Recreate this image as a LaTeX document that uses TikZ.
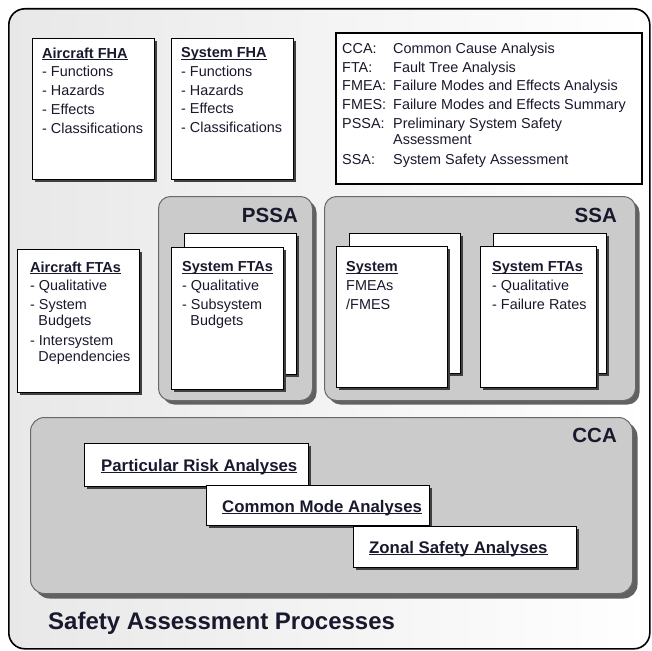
\documentclass[tikz,border=0pt]{standalone}
\usepackage{fontspec}
\setmainfont{Liberation Sans}
\usetikzlibrary{shadows}
\definecolor{textc}{RGB}{25,25,45}
\definecolor{grayfill}{RGB}{203,203,203}
\definecolor{grayline}{RGB}{105,105,105}
\newcommand{\myul}[1]{\setbox0\hbox{#1}\rlap{\rule[-1.8pt]{\wd0}{1pt}}\box0}
\newcommand{\ttl}[1]{{\fontsize{14.5}{16.2}\selectfont\bfseries\myul{#1}}}
\newcommand{\ind}{\hspace*{8.2pt}}
\tikzset{
  wbox/.style={draw=black, line width=0.9pt, fill=white, inner sep=0pt, anchor=north west,
    drop shadow={shadow xshift=3pt, shadow yshift=-3pt, fill=black!75, opacity=1}},
  gbox/.style={draw=grayline, line width=1pt, fill=grayfill, rounded corners=12pt, inner sep=0pt, anchor=north west,
    drop shadow={shadow xshift=4pt, shadow yshift=-4pt, fill=black!62, opacity=1}},
  txt/.style={inner sep=0pt, anchor=north west, align=left, text=textc, font=\fontsize{14.4}{16.2}\selectfont},
  big/.style={inner sep=0pt, anchor=base east, text=textc, font=\fontsize{20.5}{24}\selectfont\bfseries},
  ccat/.style={inner sep=0pt, anchor=base west, text=textc, font=\fontsize{16.8}{18}\selectfont\bfseries},
}
\begin{document}
\begin{tikzpicture}[x=1pt,y=-1pt]
\useasboundingbox (0,0) rectangle (652,650);
% outer frame
\node[draw=black, line width=1.6pt, rounded corners=16pt, left color=black!9, right color=white,
  minimum width=641pt, minimum height=640pt, inner sep=0pt, anchor=north west] (outer) at (8,8) {};
% FHA boxes
\node[wbox, minimum width=122pt, minimum height=141pt] (afha) at (32,38) {};
\node[wbox, minimum width=122pt, minimum height=141pt] (sfha) at (171,38) {};
\node[txt] (afhat) at (42,47.5) {\ttl{Aircraft FHA}\\[2.5pt]- Functions\\[2.5pt]- Hazards\\[2.5pt]- Effects\\[2.5pt]- Classifications};
\node[txt] (sfhat) at (181,47.5) {\ttl{System FHA}\\[2.5pt]- Functions\\[2.5pt]- Hazards\\[2.5pt]- Effects\\[2.5pt]- Classifications};
% legend
\node[draw=black, line width=2pt, fill=white, minimum width=306pt, minimum height=151pt, inner sep=0pt, anchor=north west] (legend) at (335,32) {};
\node[txt] (legendt) at (342,42.8) {\makebox[51pt][l]{CCA:}Common Cause Analysis\\[2.5pt]
\makebox[51pt][l]{FTA:}Fault Tree Analysis\\[2.5pt]
\makebox[51pt][l]{FMEA:}Failure Modes and Effects Analysis\\[2.5pt]
\makebox[51pt][l]{FMES:}Failure Modes and Effects Summary\\[2.5pt]
\makebox[51pt][l]{PSSA:}Preliminary System Safety\\
\hspace*{51pt}Assessment\\[3.5pt]
\makebox[51pt][l]{SSA:}System Safety Assessment};
% Aircraft FTAs
\node[wbox, minimum width=122pt, minimum height=143pt] (aftas) at (17,249) {};
\node[txt] (aftast) at (30,261.4) {\ttl{Aircraft FTAs}\\[2.5pt]- Qualitative\\[2.5pt]- System\\\ind Budgets\\[3.5pt]- Intersystem\\\ind Dependencies};
% PSSA
\node[gbox, minimum width=154pt, minimum height=204pt] (pssa) at (158,196) {};
\node[big] (pssal) at (298,222) {PSSA};
\node[wbox, minimum width=112pt, minimum height=141pt] (pssab) at (184,233) {};
\node[wbox, minimum width=112pt, minimum height=142pt] (pssaf) at (171,247) {};
\node[txt] (pssat) at (182,261.4) {\ttl{System FTAs}\\[2.5pt]- Qualitative\\[2.5pt]- Subsystem\\\ind Budgets};
% SSA
\node[gbox, minimum width=311pt, minimum height=204pt] (ssa) at (324,196) {};
\node[big] (ssal) at (617,222) {SSA};
\node[wbox, minimum width=111pt, minimum height=140pt] (ssab1) at (349,233) {};
\node[wbox, minimum width=111pt, minimum height=141pt] (ssaf1) at (336,246) {};
\node[txt] (ssat1) at (346,261.4) {\ttl{System}\\[2.5pt]FMEAs\\[2.5pt]/FMES};
\node[wbox, minimum width=113pt, minimum height=140pt] (ssab2) at (493,233) {};
\node[wbox, minimum width=116pt, minimum height=141pt] (ssaf2) at (480,246) {};
\node[txt] (ssat2) at (492,261.4) {\ttl{System FTAs}\\[2.5pt]- Qualitative\\[2.5pt]- Failure Rates};
% CCA
\node[gbox, rounded corners=14pt, drop shadow={shadow xshift=5pt, shadow yshift=-5pt, fill=black!62, opacity=1},
  minimum width=602pt, minimum height=176pt] (cca) at (30,417) {};
\node[big] (ccal) at (617,442) {CCA};
\node[wbox, minimum width=224pt, minimum height=43pt] (pra) at (84,443) {};
\node[ccat] (prat) at (101,471) {\myul{Particular Risk Analyses}};
\node[wbox, minimum width=223pt, minimum height=40pt] (cma) at (206,485) {};
\node[ccat] (cmat) at (222,512) {\myul{Common Mode Analyses}};
\node[wbox, minimum width=223pt, minimum height=41pt] (zsa) at (353,526) {};
\node[ccat] (zsat) at (369,553) {\myul{Zonal Safety Analyses}};
% title
\node[inner sep=0pt, anchor=base west, text=textc, font=\fontsize{24}{27}\selectfont\bfseries] (title) at (48,629) {Safety Assessment Processes};
\end{tikzpicture}
\end{document}
